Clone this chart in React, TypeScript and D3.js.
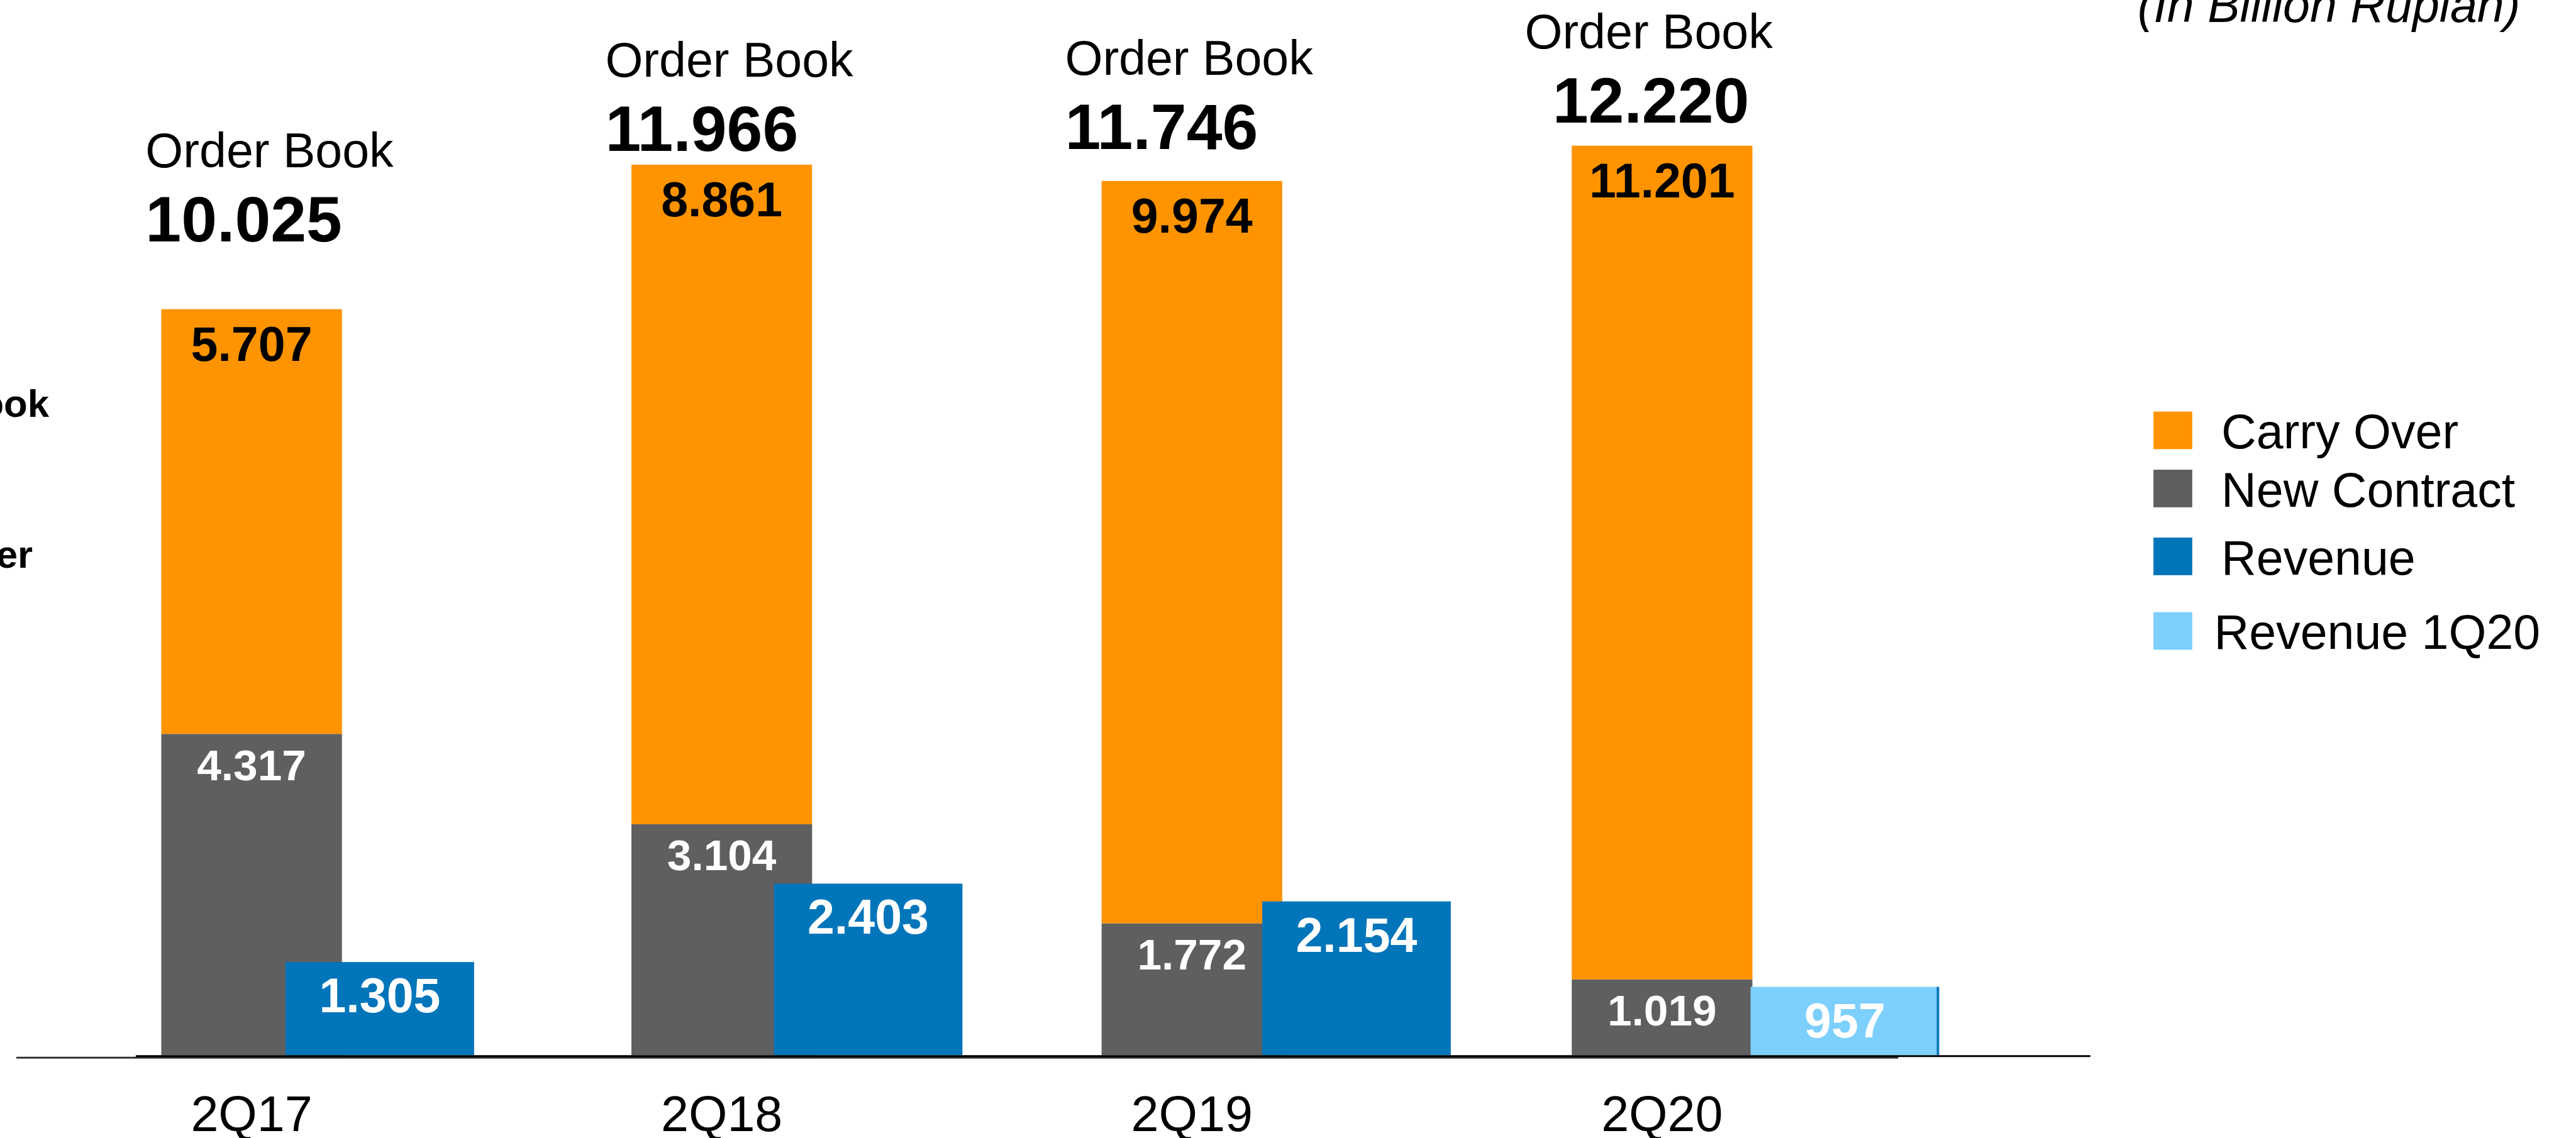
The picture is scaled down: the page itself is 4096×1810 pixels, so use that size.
import React from 'react';
import * as d3 from 'd3';

// values in billion rupiah
const categories = ['2Q17', '2Q18', '2Q19', '2Q20'];
const carryOver = [5707, 8861, 9974, 11201];
const newContract = [4317, 3104, 1772, 1019];
const revenue = [1305, 2403, 2154, 957];
const revenueSeries = ['Revenue', 'Revenue', 'Revenue', 'Revenue 1Q20'];
const orderBook = [10025, 11966, 11746, 12220];
const legendItems = ['Carry Over', 'New Contract', 'Revenue', 'Revenue 1Q20'];

const COLORS: Record<string, string> = {
  'Carry Over': '#FF9300',
  'New Contract': '#5F5F5F',
  'Revenue': '#0075BA',
  'Revenue 1Q20': '#7DCFFE',
};

// hand placed annotation boxes from the slide (number baseline lift above bar top, x shift)
const annoLift = [112, 23, 53, 38];
const annoShift = [0, 0, 0, 46];
const legendTops = [679, 775, 887, 1010];
const legendTextDx = [0, 0, 0, -12];

const W = 4246;
const H = 1876;
const K = 0.964;
const BASE = 1741;
const FONT = '"Liberation Sans", Arial, Helvetica, sans-serif';

const idFmt = d3.formatLocale({ decimal: ',', thousands: '.', grouping: [3], currency: ['', ''] }).format(',d');

export default function App() {
  const stackX = d3.scalePoint<string>().domain(categories).range([415, 2741.5]);
  const revX = d3.scalePoint<string>().domain(categories).range([626.5, 3043]);
  const annoX = d3.scalePoint<string>().domain(categories).range([240, 2515]);

  const y = d3.scaleLinear().domain([0, 14000]).range([BASE, BASE - 14 * 122.8]);
  // the slide drew the revenue columns a little shorter per unit
  const yRev = d3.scaleLinear().domain([0, 14000]).range([BASE, BASE - 14 * 117.8]);

  const stackW = 298;
  const revW = 311;

  return (
    <svg width={4096} height={1810} style={{ position: 'absolute', left: 0, top: 0, background: '#fff' }}
      fontFamily={FONT}>
      <g transform={`scale(${K})`}>
        <rect x={0} y={0} width={W} height={H} fill="#fff" />

        {/* clipped side labels at the far left */}
        <text x={81} y={688} textAnchor="end" fontSize={64} fontWeight="bold">Order Book</text>
        <text x={54} y={937} textAnchor="end" fontSize={64} fontWeight="bold">Carry Over</text>

        <text x={4157} y={36} textAnchor="end" fontSize={80} fontStyle="italic">(In Billion Rupiah)</text>

        {categories.map((c, i) => {
          const cx = stackX(c)!;
          const grayTop = y(newContract[i]);
          const orangeTop = y(newContract[i] + carryOver[i]);
          return (
            <g key={c}>
              <rect x={cx - stackW / 2} y={grayTop} width={stackW} height={BASE - grayTop} fill={COLORS['New Contract']} />
              <rect x={cx - stackW / 2} y={orangeTop} width={stackW} height={grayTop - orangeTop} fill={COLORS['Carry Over']} />
              <text x={cx} y={orangeTop + 85} textAnchor="middle" fontSize={80} fontWeight="bold" fill="#000">
                {idFmt(carryOver[i])}
              </text>
              <text x={cx} y={grayTop + 76} textAnchor="middle" fontSize={72} fontWeight="bold" fill="#fff">
                {idFmt(newContract[i])}
              </text>
            </g>
          );
        })}

        {categories.map((c, i) => {
          const cx = revX(c)!;
          const top = yRev(revenue[i]);
          const s = revenueSeries[i];
          return (
            <g key={'r' + c}>
              <rect x={cx - revW / 2} y={top} width={revW} height={BASE - top} fill={COLORS[s]} />
              {s === 'Revenue 1Q20' && (
                <rect x={cx + revW / 2 - 4} y={top} width={4} height={BASE - top} fill={COLORS['Revenue']} />
              )}
              <text x={cx} y={top + 83} textAnchor="middle" fontSize={80} fontWeight="bold" fill="#fff">
                {idFmt(revenue[i])}
              </text>
            </g>
          );
        })}

        {/* order book totals */}
        {categories.map((c, i) => {
          const numY = y(newContract[i] + carryOver[i]) - annoLift[i];
          const x0 = annoX(c)!;
          return (
            <g key={'a' + c}>
              <text x={x0} y={numY - 122} fontSize={80}>Order Book</text>
              <text x={x0 + annoShift[i]} y={numY} fontSize={106} fontWeight="bold">{idFmt(orderBook[i])}</text>
            </g>
          );
        })}

        {/* baseline */}
        <line x1={27} x2={3131} y1={1745} y2={1745} stroke="#333" strokeWidth={3} />
        <line x1={224} x2={3448} y1={1742.5} y2={1742.5} stroke="#000" strokeWidth={3} />

        {categories.map((c) => (
          <text key={'x' + c} x={stackX(c)!} y={1866} textAnchor="middle" fontSize={82}>{c}</text>
        ))}

        {/* legend */}
        {legendItems.map((name, i) => (
          <g key={name}>
            <rect x={3552} y={legendTops[i]} width={64} height={62} fill={COLORS[name]} />
            <text x={3664 + legendTextDx[i]} y={legendTops[i] + 61} fontSize={80}>{name}</text>
          </g>
        ))}
      </g>
    </svg>
  );
}
